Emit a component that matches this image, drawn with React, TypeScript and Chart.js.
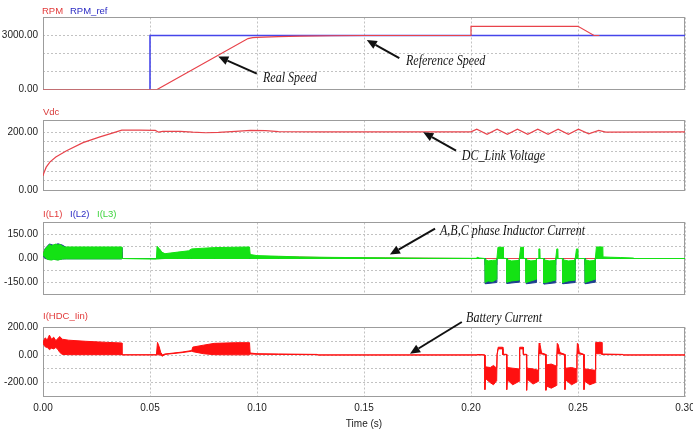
import React, { useEffect, useRef } from 'react';
import { Chart, registerables } from 'chart.js';

Chart.register(...registerables);

// ---------- shared time axis ----------
const timeTicks = [0, 0.05, 0.1, 0.15, 0.2, 0.25, 0.3];

// ---------- panel 1 : speed ----------
const rpmTime = [0, 0.0533, 0.0958, 0.098, 0.1, 0.11, 0.12, 0.135, 0.15, 0.2, 0.2, 0.25, 0.2575, 0.26];
const rpmValues = [0, 0, 2830, 2880, 2900, 2940, 2960, 2985, 3000, 3000, 3510, 3510, 3000, 3000];
const rpmRefTime = [0.05, 0.05, 0.3];
const rpmRefValues = [0, 3000, 3000];
const rpmGrid = [0, 1000, 2000, 3000, 4000];
const rpmLabels = [0, 3000];

// ---------- panel 2 : DC link voltage ----------
const vdcTime = [0, 0.0005, 0.0015, 0.0033, 0.006, 0.011, 0.0187, 0.0266, 0.032, 0.0368,
  0.045, 0.0525, 0.054, 0.056, 0.064, 0.07, 0.076, 0.082, 0.09, 0.097,
  0.104, 0.11, 0.13, 0.16, 0.2, 0.2027, 0.2075, 0.2122, 0.217, 0.2217,
  0.2265, 0.2312, 0.236, 0.2407, 0.2455, 0.2502, 0.255, 0.2597, 0.263, 0.3];
const vdcValues = [50, 62, 80, 98, 115, 136, 164, 184, 196, 207,
  207, 206, 200, 203, 203, 200, 198, 199, 203, 206,
  205, 202, 201, 201, 201, 210, 193, 210, 193, 210,
  193, 210, 193, 210, 193, 210, 194, 206, 200, 201];
const vdcGrid = [0, 33.333, 66.667, 100, 133.333, 166.667, 200, 240];
const vdcLabels = [0, 200];

// ---------- panel 3 : phase inductor currents ----------
// I(L3): upper / lower envelope of the switching band
const l3Time = [0, 0.0008, 0.002, 0.003, 0.004, 0.005, 0.006, 0.007, 0.008, 0.009, 0.01, 0.0368, 0.0368,
  0.053, 0.0533, 0.0545, 0.0555, 0.057, 0.063, 0.068, 0.0695, 0.08, 0.0965, 0.0968, 0.1, 0.11, 0.12, 0.135, 0.16, 0.18,
  0.2025, 0.2028, 0.204, 0.2065,
  0.2066, 0.208, 0.21, 0.212, 0.2121, 0.2126, 0.215, 0.2151, 0.2166,
  0.2167, 0.219, 0.2225, 0.2226, 0.2232, 0.2244, 0.2245, 0.2256,
  0.2257, 0.228, 0.2305, 0.2306, 0.2316, 0.2317, 0.2322, 0.2323, 0.2339,
  0.234, 0.2365, 0.2395, 0.2396, 0.2401, 0.2406, 0.2407, 0.2427,
  0.2428, 0.2455, 0.2486, 0.2487, 0.2493, 0.2498, 0.2499, 0.2532,
  0.2533, 0.2555, 0.258, 0.2581, 0.2586, 0.2616, 0.2617, 0.265, 0.27, 0.2758, 0.2762, 0.3];
const l3Upper = [20, 55, 75, 88, 80, 86, 90, 84, 88, 78, 72, 72, 0,
  -2, 76, 60, 40, 30, 40, 48, 60, 68, 72, 25, 18, 14, 10, 7, 4, 2,
  1, 8, 3, 0,
  -5, -15, -12, -10, 0, 70, 70, 2, 0,
  -8, -15, -12, 0, 70, 70, 2, 0,
  -8, -15, -12, 0, 0, 60, 60, 0, 0,
  -8, -15, -12, 0, 60, 60, 0, 0,
  -8, -15, -12, 0, 60, 60, 0, 0,
  -8, -15, -12, 0, 72, 72, 10, 8, 6, 3, 0, 0];
const l3Lower = [20, 10, -5, -8, -10, -5, -8, -10, -6, -3, -2, -2, 0,
  -3, -3, -2, -1, 0, 0, 0, 0, 0, 0, 0, 0, 0, 0, 0, 0, 0,
  0, 0, 0, 0,
  -150, -140, -145, -130, 0, 0, 0, 0, 0,
  -148, -140, -135, 0, 0, 0, 0, 0,
  -150, -140, -130, 0, 0, 0, 0, 0, 0,
  -152, -145, -135, 0, 0, 0, 0, 0,
  -150, -140, -135, 0, 0, 0, 0, 0,
  -150, -140, -130, 0, 0, 0, 0, 0, 0, 0, 0, 0];
// I(L2): mostly hidden under I(L3)
const l2Time = [0, 0.001, 0.003, 0.005, 0.007, 0.009, 0.011, 0.0368, 0.0369,
  0.2066, 0.2067, 0.212, 0.2121, 0.2167, 0.2168, 0.2225, 0.2226,
  0.2257, 0.2258, 0.2305, 0.2306, 0.234, 0.2341, 0.2395, 0.2396,
  0.2428, 0.2429, 0.2486, 0.2487, 0.2533, 0.2534, 0.258, 0.2581, 0.3];
const l2Upper = [15, 62, 91, 82, 92, 84, 68, 68, 0,
  0, -40, -40, 0, 0, -40, -40, 0,
  0, -40, -40, 0, 0, -40, -40, 0,
  0, -40, -40, 0, 0, -40, -40, 0, 0];
const l2Lower = [15, 0, -6, -4, -8, -3, -2, -2, 0,
  0, -158, -150, 0, 0, -156, -148, 0,
  0, -158, -150, 0, 0, -160, -152, 0,
  0, -158, -150, 0, 0, -158, -148, 0, 0];
// I(L1): hidden under the other two
const l1Time = [0, 0.0368, 0.0369, 0.0535, 0.0965, 0.0968, 0.11, 0.13, 0.2, 0.3];
const l1Values = [40, 40, 0, 0, 40, 12, 12, 6, 0, 0];
const iGrid = [-225, -150, -75, 0, 75, 150, 225];
const iLabels = [-150, 0, 150];

// ---------- panel 4 : battery current ----------
const batTime = [0, 0.001, 0.002, 0.003, 0.004, 0.005, 0.006, 0.007, 0.0078, 0.009, 0.012, 0.02, 0.03, 0.0368, 0.0369,
  0.053, 0.0535, 0.0543, 0.055, 0.0558, 0.057, 0.065, 0.0695, 0.07, 0.075, 0.08, 0.09, 0.0965, 0.0968, 0.1, 0.11, 0.128, 0.1285,
  0.2025, 0.2028, 0.2045, 0.2064,
  0.2065, 0.2068, 0.209, 0.2105, 0.212, 0.2122, 0.2127, 0.2148, 0.2149, 0.2166,
  0.2167, 0.217, 0.2195, 0.2225, 0.2227, 0.2228, 0.2244, 0.2245, 0.2259,
  0.226, 0.2263, 0.229, 0.2315, 0.2316, 0.2318, 0.2322, 0.233, 0.2349,
  0.235, 0.2355, 0.2375, 0.24, 0.2401, 0.2403, 0.2407, 0.2416, 0.2438,
  0.2439, 0.2443, 0.247, 0.2494, 0.2495, 0.2497, 0.2501, 0.2506, 0.2527,
  0.2528, 0.2532, 0.2555, 0.258, 0.2581, 0.2584, 0.2611, 0.2612, 0.271, 0.2711, 0.3];
const batUpper = [95, 125, 110, 145, 115, 130, 105, 120, 135, 115, 108, 100, 92, 88, 2,
  2, 92, 60, 20, 2, 8, 22, 33, 58, 72, 85, 90, 90, 15, 10, 8, 5, 1,
  1, 4, 4, 1,
  -80, -85, -90, -75, -95, 6, 57, 57, 6, 6,
  -75, -90, -95, -100, 6, 57, 57, 6, 6,
  -80, -95, -100, -110, 6, 87, 80, 15, 6,
  -60, -70, -65, -80, 6, 85, 78, 18, 6,
  -80, -95, -90, -100, 6, 85, 78, 18, 6,
  -80, -100, -105, -110, 6, 92, 92, 8, 5, 1, 1];
const batLower = [85, 60, 55, 40, 50, 45, 55, 40, 20, 5, 3, 3, 3, 3, 2,
  2, 2, 2, 0, -8, 5, 18, 28, 25, 10, 3, 2, 2, 8, 6, 5, 3, 1,
  1, 1, 1, 1,
  -250, -170, -200, -215, -185, 3, 45, 45, 3, 3,
  -250, -180, -215, -190, 3, 45, 45, 3, 3,
  -255, -175, -210, -190, 3, 10, 10, 8, 3,
  -255, -225, -240, -220, 3, 10, 10, 8, 3,
  -250, -180, -215, -195, 3, 10, 10, 8, 3,
  -250, -190, -215, -200, 3, 10, 10, 4, 3, 1, 1];
const batGrid = [-300, -200, -100, 0, 100, 200];
const batLabels = [-200, 0, 200];

// ---------- styles ----------
const FONT = '"Liberation Sans", Arial, sans-serif';
const RED = '#e8434b';
const BLUE = '#4646ea';
const GREEN = '#14e214';
const DARKBLUE = '#1d3f8f';
const BAT_RED = '#ff1010';
const GRID = '#c2c2c2';

const xy = (t: number[], v: number[]) => t.map((x, i) => ({ x, y: v[i] }));

function line(label: string, t: number[], v: number[], color: string, width = 1): any {
  return {
    label, data: xy(t, v), borderColor: color, backgroundColor: color,
    borderWidth: width, pointRadius: 0, tension: 0, fill: false,
  };
}
function band(label: string, t: number[], up: number[], lo: number[], color: string): any[] {
  return [
    { ...line(label, t, up, color), fill: '+1' },
    line(label + ' lower', t, lo, color),
  ];
}

type Note = { text: string; hx: number; hy: number; tx: number; ty: number; lx: number; ly: number };

type PanelProps = {
  top: number; height: number; padTop: number; padBottom: number;
  range: [number, number]; grid: number[]; labels: number[];
  datasets: any[]; notes: Note[]; showTime: boolean;
};

function Panel({ top, height, padTop, padBottom, range, grid, labels, datasets, notes, showTime }: PanelProps) {
  const ref = useRef<HTMLCanvasElement>(null);
  useEffect(() => {
    const canvas = ref.current!;
    const frame = {
      id: 'frame',
      beforeDatasetsDraw(chart: any) {
        const { ctx, chartArea: a } = chart;
        ctx.save();
        ctx.strokeStyle = '#9c9c9c';
        ctx.lineWidth = 1;
        const l = Math.floor(a.left) + 0.5, t = Math.floor(a.top) + 0.5;
        const r = Math.ceil(a.right) - 0.5, b = Math.floor(a.bottom - 0.01) + 0.5;
        ctx.strokeRect(l, t, r - l, b - t);
        ctx.restore();
      },
    };
    const annot = {
      id: 'notes',
      afterDraw(chart: any) {
        const { ctx } = chart;
        const xs = chart.scales.x, ys = chart.scales.y;
        ctx.save();
        for (const n of notes) {
          const hx = xs.getPixelForValue(n.hx), hy = ys.getPixelForValue(n.hy);
          const tx = xs.getPixelForValue(n.tx), ty = ys.getPixelForValue(n.ty);
          const ang = Math.atan2(hy - ty, hx - tx);
          const L = 10, W = 4.5;
          const bx = hx - L * Math.cos(ang), by = hy - L * Math.sin(ang);
          ctx.strokeStyle = '#111';
          ctx.fillStyle = '#111';
          ctx.lineWidth = 2;
          ctx.beginPath();
          ctx.moveTo(tx, ty);
          ctx.lineTo(bx, by);
          ctx.stroke();
          ctx.beginPath();
          ctx.moveTo(hx, hy);
          ctx.lineTo(bx + W * Math.sin(ang), by - W * Math.cos(ang));
          ctx.lineTo(bx - W * Math.sin(ang), by + W * Math.cos(ang));
          ctx.closePath();
          ctx.fill();
          const lx = xs.getPixelForValue(n.lx), ly = ys.getPixelForValue(n.ly);
          ctx.save();
          ctx.translate(lx, ly);
          ctx.scale(0.86, 1);
          ctx.font = 'italic 14px "Liberation Serif", "DejaVu Serif", serif';
          ctx.textBaseline = 'middle';
          ctx.textAlign = 'left';
          ctx.fillStyle = '#151515';
          ctx.fillText(n.text, 0, 0);
          ctx.restore();
        }
        ctx.restore();
      },
    };
    const chart = new Chart(canvas, {
      type: 'line',
      data: { datasets },
      options: {
        animation: false,
        responsive: false,
        maintainAspectRatio: false,
        events: [],
        layout: { padding: { left: 0, right: 8, top: padTop, bottom: padBottom } },
        plugins: { legend: { display: false }, tooltip: { enabled: false } },
        scales: {
          x: {
            type: 'linear', min: 0, max: 0.3,
            afterBuildTicks: (ax: any) => { ax.ticks = timeTicks.map((v) => ({ value: v })); },
            afterFit: (ax: any) => { ax.paddingLeft = 0; ax.paddingRight = 0; ax.height = showTime ? 35.5 : 0; },
            grid: { color: GRID, lineWidth: 1, drawTicks: false },
            border: { display: false, dash: [2, 2] },
            ticks: {
              display: showTime, padding: 6, color: '#222', autoSkip: false, maxRotation: 0,
              font: { family: FONT, size: 10 },
              callback: (v: any) => Number(v).toFixed(2),
            },
            title: {
              display: showTime, text: 'Time (s)', color: '#222',
              font: { family: FONT, size: 10 }, padding: { top: 0, bottom: 2 },
            },
          },
          y: {
            type: 'linear', min: range[0], max: range[1],
            afterBuildTicks: (ax: any) => { ax.ticks = grid.map((v) => ({ value: v })); },
            afterFit: (ax: any) => { ax.width = 43; ax.paddingTop = 0; ax.paddingBottom = 0; },
            grid: { color: GRID, lineWidth: 1, drawTicks: false },
            border: { display: false, dash: [2, 2] },
            ticks: {
              padding: 5, color: '#222', autoSkip: false,
              font: { family: FONT, size: 10 },
              callback: (v: any) => (labels.includes(Number(v)) ? Number(v).toFixed(2) : ''),
            },
          },
        },
      } as any,
      plugins: [frame, annot],
    });
    return () => chart.destroy();
  }, []);
  return (
    <canvas
      ref={ref}
      width={693}
      height={height}
      style={{ position: 'absolute', left: 0, top, width: 693, height, display: 'block' }}
    />
  );
}

const legendStyle = (left: number, top: number, color: string): React.CSSProperties => ({
  position: 'absolute', left, top: top - 6, height: 12, lineHeight: '12px',
  fontFamily: FONT, fontSize: 9.5, color, whiteSpace: 'nowrap',
});

export default function App() {
  const speedSets = [
    line('RPM', rpmTime, rpmValues, RED, 1.2),
    line('RPM_ref', rpmRefTime, rpmRefValues, BLUE, 1.6),
  ];
  const vdcSets = [line('Vdc', vdcTime, vdcValues, RED, 1.2)];
  const currentSets = [
    ...band('I(L3)', l3Time, l3Upper, l3Lower, GREEN),
    ...band('I(L2)', l2Time, l2Upper, l2Lower, DARKBLUE),
    line('I(L1)', l1Time, l1Values, RED),
  ];
  const batSets = band('I(HDC_Iin)', batTime, batUpper, batLower, BAT_RED);

  return (
    <div style={{ position: 'fixed', left: 0, top: 0, width: 693, height: 432, background: '#fff', overflow: 'hidden' }}>
      <Panel
        top={0} height={100} padTop={17.5} padBottom={10.5}
        range={[0, 4000]} grid={rpmGrid} labels={rpmLabels} datasets={speedSets} showTime={false}
        notes={[
          { text: 'Real Speed', hx: 0.0819, hy: 1832, tx: 0.0999, ty: 880, lx: 0.1028, ly: 605 },
          { text: 'Reference Speed', hx: 0.1513, hy: 2751, tx: 0.1665, ty: 1744, lx: 0.1696, ly: 1557 },
        ]}
      />
      <Panel
        top={100} height={105} padTop={20.5} padBottom={14.5}
        range={[0, 240]} grid={vdcGrid} labels={vdcLabels} datasets={vdcSets} showTime={false}
        notes={[{ text: 'DC_Link Voltage', hx: 0.1777, hy: 200, tx: 0.193, ty: 137, lx: 0.1957, ly: 117 }]}
      />
      <Panel
        top={205} height={100} padTop={17.5} padBottom={10.5}
        range={[-225, 225]} grid={iGrid} labels={iLabels} datasets={currentSets} showTime={false}
        notes={[{ text: 'A,B,C phase Inductor Current', hx: 0.1621, hy: 25, tx: 0.1832, ty: 186, lx: 0.1855, ly: 169 }]}
      />
      <Panel
        top={305} height={127} padTop={22.5} padBottom={0}
        range={[-300, 200]} grid={batGrid} labels={batLabels} datasets={batSets} showTime={true}
        notes={[{ text: 'Battery Current', hx: 0.1715, hy: 10, tx: 0.1957, ty: 240, lx: 0.1977, ly: 265 }]}
      />
      <div style={legendStyle(42, 10.7, '#e23a3a')}>RPM</div>
      <div style={legendStyle(70, 10.7, '#2c2cc4')}>RPM_ref</div>
      <div style={legendStyle(43, 112.3, '#d83a3a')}>Vdc</div>
      <div style={legendStyle(43, 214, '#e23a3a')}>I(L1)</div>
      <div style={legendStyle(70, 214, '#2c2cc4')}>I(L2)</div>
      <div style={legendStyle(97, 214, '#3ed43e')}>I(L3)</div>
      <div style={legendStyle(43, 315.7, '#e23a3a')}>I(HDC_Iin)</div>
    </div>
  );
}
